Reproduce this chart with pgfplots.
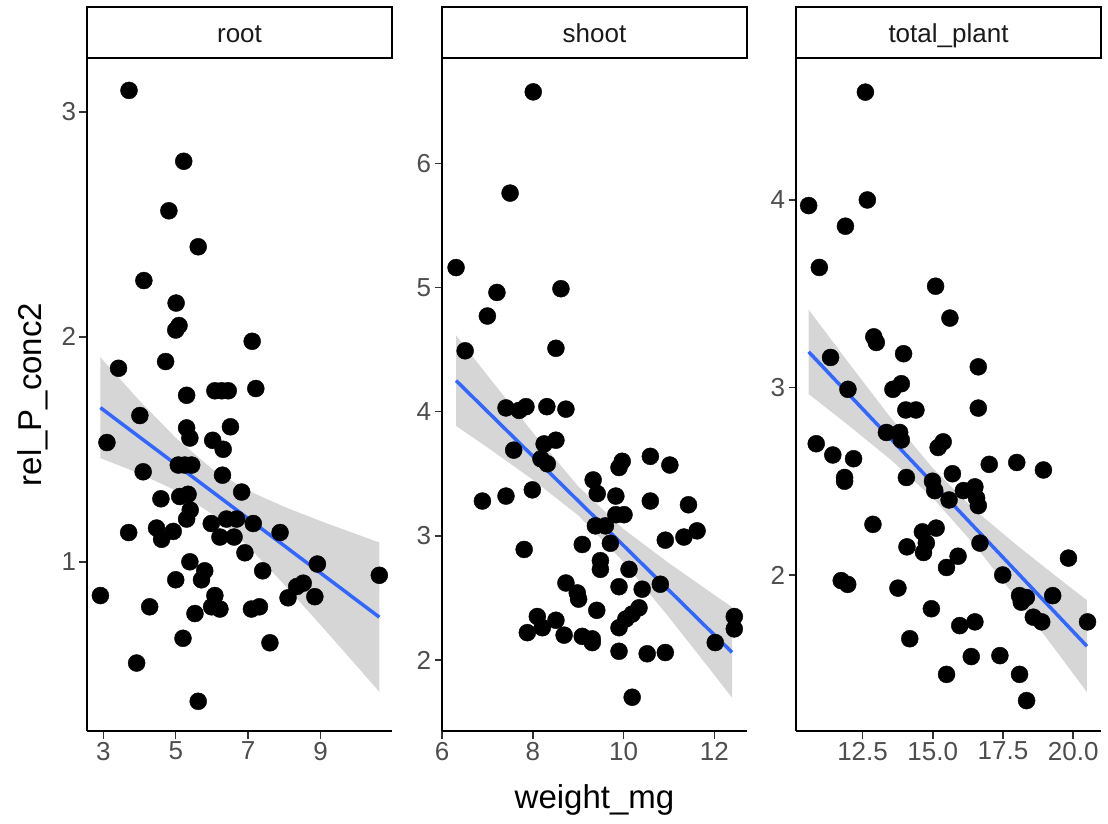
\documentclass[border=0pt]{standalone}
\usepackage{pgfplots}
\pgfplotsset{compat=1.18}
\usepackage{fontspec}
\setmainfont{Liberation Sans}
\definecolor{smoothblue}{HTML}{3366FF}
\definecolor{bandgrey}{HTML}{D6D6D6}
\definecolor{ticklab}{HTML}{4D4D4D}
\definecolor{tickcol}{HTML}{333333}
\definecolor{striptext}{HTML}{1A1A1A}
\pgfplotsset{panel/.style={
  scale only axis, width=305pt, height=673pt, anchor=south west,
  axis x line=bottom, axis y line=left,
  axis line style={-, line width=1.8pt, black},
  tick style={line width=1.5pt, color=tickcol},
  tick align=outside, major tick length=7.5pt, minor tick num=0,
  ticklabel style={font=\fontsize{26}{26}\selectfont, text=ticklab},
  /pgf/number format/assume math mode=true,
  enlargelimits=false, clip=false,
},
pts/.style={only marks, mark=*, mark size=8.5pt, mark options={fill=black, draw=none}},
bnd/.style={draw=none, fill=bandgrey},
fit/.style={smoothblue, line width=3.5pt, mark=none},
}
\begin{document}
\begin{tikzpicture}
\useasboundingbox (0pt,0pt) rectangle (1108pt,823pt);
% ---------------- root ----------------
\begin{axis}[panel, at={(87pt,92pt)}, xmin=2.55, xmax=10.97, ymin=0.248, ymax=3.239,
  xtick={3,5,7,9}, ytick={1,2,3}]
\addplot[bnd] coordinates {(2.92,1.909)(4,1.716)(5,1.551)(6,1.413)(7,1.316)(8,1.244)(9,1.181)(10,1.122)(10.62,1.086)
 (10.62,0.422)(10,0.536)(9,0.719)(8,0.898)(7,1.068)(6,1.213)(5,1.317)(4,1.392)(2.92,1.461)} -- cycle;
\addplot[pts] table {
x y
3.71 3.095
5.22 2.78
4.81 2.56
5.62 2.40
4.12 2.25
5.01 2.15
5.09 2.05
5.00 2.03
7.11 1.98
3.42 1.86
4.72 1.89
5.30 1.74
6.08 1.76
6.27 1.76
6.45 1.76
7.21 1.77
4.01 1.65
3.10 1.53
5.30 1.595
5.39 1.55
6.02 1.54
6.31 1.50
6.51 1.60
5.07 1.43
5.25 1.43
5.44 1.43
4.10 1.40
6.29 1.385
6.82 1.31
4.59 1.28
5.11 1.29
5.34 1.30
5.40 1.23
5.30 1.19
5.98 1.17
6.40 1.19
6.68 1.19
6.22 1.11
6.61 1.11
7.14 1.17
7.88 1.13
3.70 1.13
4.47 1.15
4.61 1.10
4.93 1.135
6.91 1.04
5.39 1.00
5.80 0.96
5.71 0.92
5.00 0.92
7.40 0.96
8.91 0.99
10.62 0.94
2.92 0.85
4.28 0.80
6.08 0.85
5.99 0.80
6.22 0.79
5.53 0.77
7.09 0.79
7.31 0.80
8.10 0.84
8.34 0.89
8.52 0.905
8.84 0.845
5.20 0.66
7.60 0.64
3.92 0.55
5.62 0.38
};
\addplot[fit] coordinates {(2.92,1.685)(10.62,0.754)};
\end{axis}
% ---------------- shoot ----------------
\begin{axis}[panel, at={(442pt,92pt)}, xmin=6.0, xmax=12.72, ymin=1.428, ymax=6.848,
  xtick={6,8,10,12}, ytick={2,3,4,5,6}]
\addplot[bnd] coordinates {(6.31,4.615)(7,4.292)(8,3.832)(9,3.399)(10,3.054)(11,2.780)(12,2.524)(12.39,2.426)
 (12.39,1.696)(12,1.880)(11,2.344)(10,2.790)(9,3.165)(8,3.452)(7,3.712)(6.31,3.885)} -- cycle;
\addplot[pts] table {
x y
8.01 6.575
7.50 5.76
6.31 5.16
7.21 4.96
8.62 4.99
7.00 4.77
8.51 4.51
6.51 4.49
7.41 4.03
7.70 4.01
7.85 4.04
8.31 4.04
8.73 4.02
7.58 3.69
8.25 3.74
8.51 3.77
8.18 3.62
8.32 3.58
9.97 3.60
9.90 3.55
10.59 3.64
11.02 3.57
6.89 3.28
7.41 3.32
7.99 3.37
9.33 3.45
9.42 3.34
9.83 3.32
10.59 3.28
11.43 3.25
9.83 3.17
10.01 3.17
9.38 3.08
9.60 3.08
10.92 2.965
11.33 2.99
11.62 3.04
9.09 2.93
9.71 2.94
7.81 2.89
9.49 2.80
9.49 2.73
10.12 2.73
8.73 2.62
8.98 2.54
9.01 2.49
9.90 2.59
10.41 2.57
10.81 2.61
9.41 2.40
10.34 2.42
10.19 2.37
10.05 2.33
9.90 2.26
8.10 2.35
8.21 2.26
7.88 2.22
8.51 2.32
8.69 2.20
9.09 2.19
9.31 2.17
9.31 2.14
9.90 2.07
10.52 2.05
10.92 2.06
12.02 2.14
12.44 2.35
12.44 2.25
10.19 1.70
};
\addplot[fit] coordinates {(6.31,4.25)(12.39,2.061)};
\end{axis}
% ---------------- total_plant ----------------
\begin{axis}[panel, at={(796pt,92pt)}, xmin=10.13, xmax=20.99, ymin=1.168, ymax=4.757,
  xtick={12.5,15,17.5,20}, xticklabels={12.5,15.0,17.5,20.0}, ytick={2,3,4}]
\addplot[bnd] coordinates {(10.58,3.415)(12,3.132)(13.5,2.839)(15,2.569)(16.5,2.346)(18,2.158)(19.5,1.980)(20.49,1.865)
 (20.49,1.375)(19.5,1.574)(18,1.872)(16.5,2.158)(15,2.411)(13.5,2.615)(12,2.798)(10.58,2.965)} -- cycle;
\addplot[pts] table {
x y
12.60 4.575
10.58 3.97
12.67 4.00
11.89 3.86
10.96 3.64
15.10 3.54
15.61 3.37
12.90 3.27
12.99 3.24
13.96 3.18
11.36 3.16
16.62 3.11
11.98 2.99
13.58 2.99
13.88 3.02
14.04 2.88
14.40 2.88
16.62 2.89
13.35 2.76
13.82 2.76
13.88 2.72
10.85 2.70
15.19 2.68
15.37 2.71
11.44 2.64
12.18 2.62
17.01 2.59
17.99 2.60
18.94 2.56
11.86 2.52
11.86 2.50
14.06 2.52
15.70 2.54
14.99 2.50
15.07 2.45
16.09 2.45
16.50 2.47
16.56 2.41
16.62 2.37
15.58 2.40
16.68 2.17
12.87 2.27
14.63 2.23
15.12 2.25
14.77 2.17
14.67 2.12
14.08 2.15
15.90 2.10
15.49 2.04
19.83 2.09
11.74 1.97
11.97 1.95
13.76 1.93
17.49 2.00
18.09 1.89
18.33 1.88
18.15 1.855
19.27 1.89
14.95 1.82
18.58 1.775
18.88 1.75
20.51 1.75
15.96 1.73
16.50 1.75
14.18 1.66
16.37 1.565
17.39 1.57
15.49 1.47
18.09 1.47
18.34 1.33
};
\addplot[fit] coordinates {(10.58,3.19)(20.49,1.62)};
\end{axis}
% ---------------- strips ----------------
\draw[line width=2pt, fill=white] (87pt,765pt) rectangle (392pt,816pt);
\draw[line width=2pt, fill=white] (442pt,765pt) rectangle (747pt,816pt);
\draw[line width=2pt, fill=white] (796pt,765pt) rectangle (1101pt,816pt);
\node[anchor=base, font=\fontsize{26}{26}\selectfont, text=striptext, inner sep=0pt] at (239.5pt,780.5pt) {root};
\node[anchor=base, font=\fontsize{26}{26}\selectfont, text=striptext, inner sep=0pt] at (594.5pt,780.5pt) {shoot};
\node[anchor=base, font=\fontsize{26}{26}\selectfont, text=striptext, inner sep=0pt] at (948.5pt,780.5pt) {total\_plant};
% ---------------- axis titles ----------------
\node[anchor=base, font=\fontsize{33}{33}\selectfont, inner sep=0pt] at (594.5pt,15pt) {weight\_mg};
\node[rotate=90, anchor=base, font=\fontsize{33}{33}\selectfont, inner sep=0pt] at (42pt,428.5pt) {rel\_P\_conc2};
\end{tikzpicture}
\end{document}
